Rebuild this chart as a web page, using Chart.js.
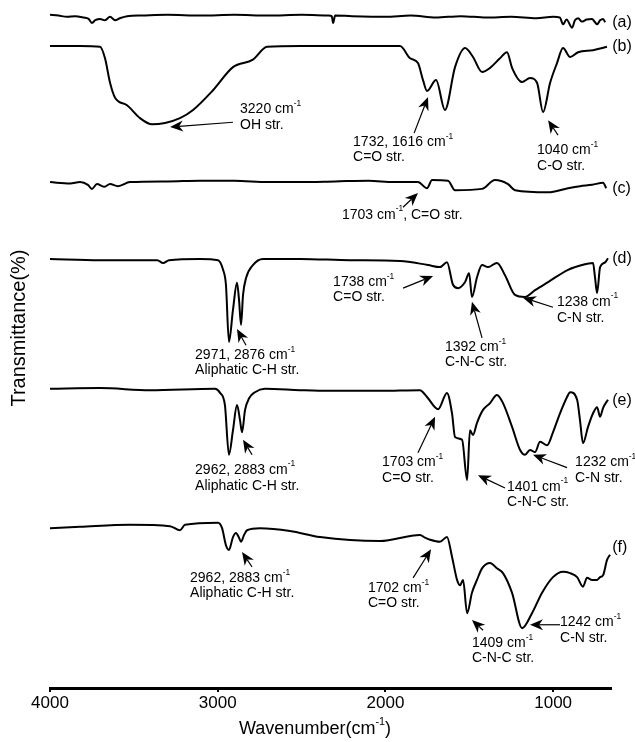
<!DOCTYPE html>
<html>
<head>
<meta charset="utf-8">
<script src="https://cdn.jsdelivr.net/npm/chart.js@4.4.1/dist/chart.umd.min.js"></script>
<style>
    html, body { margin: 0; padding: 0; background: #fff; }
    #wrap { width: 635px; height: 742px; position: relative; }
</style>
</head>
<body>
<div id="wrap"><canvas id="ftirChart"></canvas></div>
<script>
const FONT = "'Liberation Sans', Arial, sans-serif";

// Sumbu x (bilangan gelombang, cm-1)
const xTicks = [4000, 3000, 2000, 1000];
const xMin = 655;
const xMax = 4000;

// Spektrum (a) - (f), transmitansi dengan offset (unit bebas, 0-100)
const waveA = [4000, 3950, 3900, 3850, 3800, 3770, 3750, 3730, 3702, 3672, 3642, 3612, 3583, 3540, 3450, 3300, 3100, 2900, 2700, 2500, 2340, 2320, 2312, 2300, 2200, 2000, 1850, 1700, 1550, 1400, 1250, 1100, 1000, 960, 941, 920, 887, 870, 851, 830, 800, 768, 750, 738, 720, 702, 690];
const transA = [99.0, 98.9, 98.7, 98.8, 98.6, 98.4, 97.8, 98.2, 98.4, 98.2, 98.7, 98.2, 98.5, 98.8, 98.9, 99.0, 98.9, 99.0, 98.9, 99.0, 98.9, 98.8, 97.8, 98.9, 98.8, 98.7, 98.9, 98.6, 98.8, 98.6, 98.7, 98.5, 98.7, 98.6, 97.6, 98.3, 97.1, 98.2, 98.5, 98.0, 98.3, 98.4, 97.9, 97.6, 98.2, 98.4, 97.9];

const waveB = [4000, 3821, 3702, 3672, 3642, 3612, 3541, 3463, 3392, 3314, 3225, 3147, 3028, 2909, 2790, 2706, 2509, 2211, 1913, 1853, 1806, 1776, 1752, 1698, 1645, 1585, 1525, 1478, 1424, 1376, 1317, 1275, 1245, 1185, 1138, 1096, 1060, 1018, 977, 941, 899, 851, 762, 679];
const transB = [94.4, 94.4, 94.3, 92.6, 89.0, 86.8, 85.7, 83.8, 82.9, 83.1, 83.8, 85.0, 87.9, 91.3, 92.4, 94.3, 94.4, 94.4, 94.4, 92.6, 91.9, 89.4, 87.8, 89.4, 85.0, 91.3, 94.1, 92.8, 90.6, 91.2, 92.6, 93.5, 91.2, 89.1, 89.7, 89.0, 84.7, 89.0, 91.9, 94.1, 92.8, 93.5, 93.8, 94.3];

const waveC = [4000, 3880, 3821, 3774, 3750, 3720, 3678, 3642, 3595, 3523, 3300, 3106, 2900, 2700, 2509, 2300, 2100, 1950, 1806, 1752, 1722, 1627, 1585, 1424, 1347, 1269, 1227, 1030, 911, 840, 768, 702, 684];
const transC = [74.4, 74.2, 74.4, 74.0, 73.4, 74.1, 73.7, 74.1, 73.8, 74.4, 74.5, 74.6, 74.6, 74.4, 74.4, 74.5, 74.6, 74.4, 74.4, 73.5, 74.7, 74.6, 73.2, 73.4, 74.7, 74.1, 73.2, 72.9, 73.5, 73.8, 74.0, 74.3, 73.5];

const waveD = [4000, 3702, 3360, 3326, 3290, 3106, 2998, 2968, 2951, 2933, 2909, 2885, 2873, 2861, 2849, 2831, 2790, 2730, 2509, 2211, 1913, 1746, 1675, 1633, 1597, 1567, 1525, 1501, 1484, 1454, 1424, 1388, 1335, 1287, 1227, 1168, 1108, 1030, 911, 828, 762, 750, 738, 720, 690, 673];
const transD = [63.1, 62.9, 62.9, 62.5, 62.9, 63.1, 62.9, 61.5, 59.3, 50.9, 55.6, 59.6, 57.1, 53.4, 57.8, 60.3, 62.2, 63.1, 63.1, 62.9, 62.8, 62.2, 61.9, 62.6, 59.3, 58.8, 59.7, 61.0, 57.5, 60.4, 62.2, 61.9, 62.5, 60.7, 57.8, 57.5, 58.5, 59.7, 61.5, 62.2, 62.5, 60.3, 58.1, 61.9, 62.6, 63.2];

const waveE = [4000, 3702, 3404, 3016, 2986, 2957, 2933, 2909, 2885, 2867, 2855, 2837, 2813, 2778, 2718, 2509, 2330, 2032, 1794, 1752, 1686, 1633, 1603, 1585, 1543, 1513, 1496, 1478, 1454, 1418, 1376, 1335, 1299, 1245, 1197, 1168, 1138, 1108, 1078, 1036, 1001, 959, 917, 899, 857, 840, 822, 792, 762, 738, 720, 702, 673];
const transE = [44.0, 44.1, 43.8, 44.0, 43.4, 41.6, 34.3, 37.9, 41.6, 39.4, 37.6, 40.9, 42.6, 43.5, 44.0, 43.8, 43.7, 43.7, 43.8, 42.8, 41.0, 43.4, 40.4, 36.9, 36.5, 30.6, 37.9, 37.2, 39.0, 40.9, 41.9, 43.1, 41.9, 38.4, 35.0, 34.3, 35.0, 34.7, 36.2, 35.7, 37.6, 40.4, 42.8, 43.5, 42.4, 39.4, 36.0, 38.4, 40.4, 41.3, 39.9, 41.2, 42.4];

const waveF = [4000, 3821, 3523, 3284, 3225, 3195, 2998, 2974, 2951, 2933, 2909, 2891, 2873, 2861, 2843, 2825, 2748, 2569, 2390, 2032, 1794, 1764, 1734, 1675, 1633, 1603, 1573, 1555, 1537, 1513, 1484, 1454, 1424, 1376, 1335, 1299, 1245, 1185, 1126, 1066, 1001, 941, 899, 857, 822, 798, 768, 738, 720, 702, 679, 661];
const transF = [23.5, 23.7, 24.0, 23.8, 23.2, 24.0, 24.3, 23.5, 21.0, 20.3, 22.2, 22.8, 22.1, 21.5, 22.5, 23.2, 23.5, 23.1, 22.2, 21.6, 22.5, 22.1, 21.8, 21.5, 22.2, 19.3, 15.9, 15.1, 15.9, 11.0, 14.0, 15.9, 17.6, 18.4, 17.6, 16.9, 14.0, 8.8, 11.0, 14.0, 16.3, 17.1, 16.9, 16.3, 14.9, 16.2, 15.9, 15.9, 16.3, 16.6, 18.8, 19.6];

// Label kurva di sisi kanan
const curveLabels = ['(a)', '(b)', '(c)', '(d)', '(e)', '(f)'];
const curveLabelWave = 648;
const curveLabelTrans = [97.9, 94.3, 73.5, 63.1, 42.2, 20.7];

// Anotasi puncak: teks (w, v per baris), ekor dan ujung panah
const peakNotes = [
    { lines: ['3220 cm^{-1}', 'OH str.'], at: [2867, 85.1, 82.8], tail: [2909, 83.2], tip: [3284, 82.5] },
    { lines: ['1732, 1616 cm^{-1}', 'C=O str.'], at: [2193, 80.3, 78.1], tail: [1829, 81.6], tip: [1746, 86.9] },
    { lines: ['1040 cm^{-1}', 'C-O str.'], at: [1096, 79.1, 76.8], tail: [971, 81.3], tip: [1030, 83.5] },
    { lines: ['1703 cm^{-1}, C=O str.'], at: [2259, 69.6], tail: [1895, 70.7], tip: [1806, 72.8] },
    { lines: ['2971, 2876 cm^{-1}', 'Aliphatic C-H str.'], at: [3135, 49.0, 46.8], tail: [2831, 50.4], tip: [2885, 52.8] },
    { lines: ['1738 cm^{-1}', 'C=O str.'], at: [2312, 59.7, 57.5], tail: [1895, 58.8], tip: [1716, 60.6] },
    { lines: ['1392 cm^{-1}', 'C-N-C str.'], at: [1645, 50.1, 47.9], tail: [1424, 51.5], tip: [1484, 56.8] },
    { lines: ['1238 cm^{-1}', 'C-N str.'], at: [977, 56.8, 54.4], tail: [1001, 56.0], tip: [1180, 57.4] },
    { lines: ['2962, 2883 cm^{-1}', 'Aliphatic C-H str.'], at: [3135, 32.1, 29.7], tail: [2795, 34.3], tip: [2849, 36.5] },
    { lines: ['1703 cm^{-1}', 'C=O str.'], at: [2020, 33.2, 30.9], tail: [1806, 34.6], tip: [1704, 39.9] },
    { lines: ['1401 cm^{-1}', 'C-N-C str.'], at: [1275, 29.6, 27.4], tail: [1287, 29.4], tip: [1448, 31.3] },
    { lines: ['1232 cm^{-1}', 'C-N str.'], at: [869, 33.2, 30.9], tail: [917, 32.4], tip: [1120, 34.3] },
    { lines: ['2962, 2883 cm^{-1}', 'Aliphatic C-H str.'], at: [3165, 16.2, 14.0], tail: [2795, 17.8], tip: [2855, 20.0] },
    { lines: ['1702 cm^{-1}', 'C=O str.'], at: [2104, 14.7, 12.5], tail: [1835, 16.2], tip: [1728, 20.4] },
    { lines: ['1409 cm^{-1}', 'C-N-C str.'], at: [1484, 6.6, 4.4], tail: [1418, 8.5], tip: [1484, 10.0] },
    { lines: ['1242 cm^{-1}', 'C-N str.'], at: [959, 9.7, 7.4], tail: [959, 9.3], tip: [1138, 9.3] },
];

const spectra = [
    [waveA, transA], [waveB, transB], [waveC, transC],
    [waveD, transD], [waveE, transE], [waveF, transF],
];

/**
 * Menulis teks dengan superskrip (format ^{...}).
 */
function drawRich(ctx, text, x, y, size, align) {
    const parts = text.split(/\^\{([^}]*)\}/).map((t, i) => ({ text: t, sup: i % 2 === 1 }));
    const fontOf = p => `${p.sup ? size * 0.6 : size}px ${FONT}`;
    let total = 0;
    parts.forEach(p => {
        ctx.font = fontOf(p);
        p.w = ctx.measureText(p.text).width;
        total += p.w;
    });
    let cx = align === 'center' ? x - total / 2 : x;
    ctx.textAlign = 'left';
    ctx.textBaseline = 'middle';
    parts.forEach(p => {
        ctx.font = fontOf(p);
        ctx.fillText(p.text, cx, p.sup ? y - size * 0.4 : y);
        cx += p.w;
    });
}

/**
 * Menggambar panah dengan kepala segitiga berlekuk.
 */
function drawArrow(ctx, x0, y0, x1, y1) {
    const ang = Math.atan2(y1 - y0, x1 - x0);
    const L = 13, W = 5.5;
    const dx = Math.cos(ang), dy = Math.sin(ang);
    const nx = x1 - dx * L * 0.7, ny = y1 - dy * L * 0.7;
    ctx.lineWidth = 1.2;
    ctx.beginPath();
    ctx.moveTo(x0, y0);
    ctx.lineTo(nx, ny);
    ctx.stroke();
    ctx.beginPath();
    ctx.moveTo(x1, y1);
    ctx.lineTo(x1 - dx * L - dy * W, y1 - dy * L + dx * W);
    ctx.lineTo(nx, ny);
    ctx.lineTo(x1 - dx * L + dy * W, y1 - dy * L - dx * W);
    ctx.closePath();
    ctx.fill();
}

const notesPlugin = {
    id: 'peakNotes',
    afterDraw(chart) {
        const { ctx, scales: { x, y } } = chart;
        ctx.save();
        ctx.fillStyle = '#000';
        ctx.strokeStyle = '#000';

        peakNotes.forEach(n => {
            drawArrow(ctx,
                x.getPixelForValue(n.tail[0]), y.getPixelForValue(n.tail[1]),
                x.getPixelForValue(n.tip[0]), y.getPixelForValue(n.tip[1]));
            const lx = x.getPixelForValue(n.at[0]);
            n.lines.forEach((line, i) => drawRich(ctx, line, lx, y.getPixelForValue(n.at[i + 1]), 14, 'left'));
        });

        curveLabels.forEach((lab, i) => {
            drawRich(ctx, lab, x.getPixelForValue(curveLabelWave), y.getPixelForValue(curveLabelTrans[i]), 16, 'left');
        });

        // Judul sumbu
        drawRich(ctx, 'Wavenumber(cm^{-1})', 315, 729, 18, 'center');
        ctx.translate(19, 328);
        ctx.rotate(-Math.PI / 2);
        drawRich(ctx, 'Transmittance(%)', 0, 0, 20, 'center');
        ctx.restore();
    }
};

const ctx = document.getElementById('ftirChart');
new Chart(ctx, {
    type: 'line',
    data: {
        datasets: spectra.map(([w, t], i) => ({
            label: curveLabels[i],
            data: w.map((v, k) => ({ x: v, y: t[k] })),
            borderColor: '#000',
            borderWidth: 2,
            pointRadius: 0,
            cubicInterpolationMode: 'monotone',
            fill: false,
        }))
    },
    options: {
        responsive: true,
        maintainAspectRatio: false,
        animation: false,
        layout: { padding: { left: 50, right: 24, top: 8, bottom: 27.6 } },
        plugins: { legend: { display: false }, tooltip: { enabled: false } },
        scales: {
            x: {
                type: 'linear',
                reverse: true,
                min: xMin,
                max: xMax,
                afterBuildTicks: axis => { axis.ticks = xTicks.map(v => ({ value: v })); },
                grid: { display: true, drawOnChartArea: false, drawTicks: true, tickLength: 4, color: '#000', lineWidth: 2 },
                border: { display: true, color: '#000', width: 3 },
                ticks: {
                    color: '#000',
                    padding: 1,
                    maxRotation: 0,
                    font: { family: FONT, size: 17 },
                    callback: value => String(value)
                }
            },
            y: { display: false, min: 0, max: 100 }
        }
    },
    plugins: [notesPlugin]
});
</script>
</body>
</html>
